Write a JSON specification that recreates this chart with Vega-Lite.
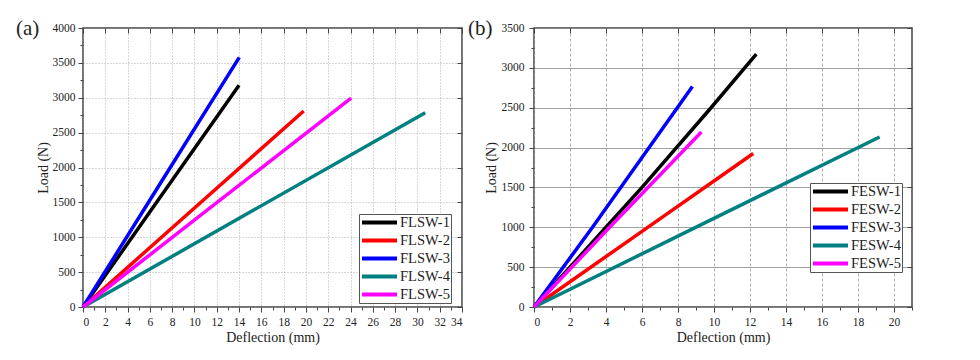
{
  "$schema": "https://vega.github.io/schema/vega-lite/v6.json",
  "background": "white",
  "padding": {"left": 15, "top": 17, "right": 5, "bottom": 5},
  "datasets": {
    "fl": [
      {"specimen": "FLSW-1", "deflection": 0, "load": 0},
      {"specimen": "FLSW-1", "deflection": 7, "load": 1590},
      {"specimen": "FLSW-1", "deflection": 14, "load": 3180},
      {"specimen": "FLSW-2", "deflection": 0, "load": 0},
      {"specimen": "FLSW-2", "deflection": 9.9, "load": 1405},
      {"specimen": "FLSW-2", "deflection": 19.8, "load": 2810},
      {"specimen": "FLSW-3", "deflection": 0, "load": 0},
      {"specimen": "FLSW-3", "deflection": 7, "load": 1788},
      {"specimen": "FLSW-3", "deflection": 14.02, "load": 3578},
      {"specimen": "FLSW-4", "deflection": 0, "load": 0},
      {"specimen": "FLSW-4", "deflection": 15.35, "load": 1393},
      {"specimen": "FLSW-4", "deflection": 30.7, "load": 2785},
      {"specimen": "FLSW-5", "deflection": 0, "load": 0},
      {"specimen": "FLSW-5", "deflection": 12, "load": 1496},
      {"specimen": "FLSW-5", "deflection": 24.05, "load": 2995}
    ],
    "fe": [
      {"specimen": "FESW-1", "deflection": 0, "load": 0},
      {"specimen": "FESW-1", "deflection": 4.0, "load": 1000},
      {"specimen": "FESW-1", "deflection": 6.0, "load": 1500},
      {"specimen": "FESW-1", "deflection": 9.8, "load": 2490},
      {"specimen": "FESW-1", "deflection": 12.35, "load": 3172},
      {"specimen": "FESW-2", "deflection": 0, "load": 0},
      {"specimen": "FESW-2", "deflection": 6.1, "load": 965},
      {"specimen": "FESW-2", "deflection": 12.18, "load": 1925},
      {"specimen": "FESW-3", "deflection": 0, "load": 0},
      {"specimen": "FESW-3", "deflection": 3.25, "load": 1000},
      {"specimen": "FESW-3", "deflection": 8.8, "load": 2765},
      {"specimen": "FESW-4", "deflection": 0, "load": 0},
      {"specimen": "FESW-4", "deflection": 9.6, "load": 1067},
      {"specimen": "FESW-4", "deflection": 19.2, "load": 2133},
      {"specimen": "FESW-5", "deflection": 0, "load": 0},
      {"specimen": "FESW-5", "deflection": 4.2, "load": 1000},
      {"specimen": "FESW-5", "deflection": 9.3, "load": 2195}
    ]
  },
  "bounds": "flush",
  "spacing": 72,
  "hconcat": [
    {
      "width": 379,
      "height": 279,
      "title": {"text": "(a)", "offset": -17, "dx": -67},
      "data": {"name": "fl"},
      "resolve": {"axis": {"x": "independent", "y": "independent"}},
      "layer": [
        {
          "mark": {"type": "point", "opacity": 0},
          "encoding": {
            "x": {"field": "deflection", "type": "quantitative", "scale": {"domain": [0, 34], "nice": false},
              "axis": {"orient": "top", "values": [0,2,4,6,8,10,12,14,16,18,20,22,24,26,28,30,32,34], "labels": false, "tickSize": -5, "grid": false, "title": null}},
            "y": {"field": "load", "type": "quantitative", "scale": {"domain": [0, 4000], "nice": false},
              "axis": {"orient": "right", "values": [0,500,1000,1500,2000,2500,3000,3500,4000], "labels": false, "tickSize": -5, "grid": false, "title": null}}
          }
        },
        {
          "mark": {"type": "point", "opacity": 0},
          "encoding": {
            "x": {"field": "deflection", "type": "quantitative", "scale": {"domain": [0, 34], "nice": false},
              "axis": {"orient": "bottom", "values": [1,3,5,7,9,11,13,15,17,19,21,23,25,27,29,31,33], "labels": false, "tickSize": 3, "grid": false, "title": null}},
            "y": {"field": "load", "type": "quantitative", "scale": {"domain": [0, 4000], "nice": false},
              "axis": {"orient": "left", "values": [250,750,1250,1750,2250,2750,3250,3750], "labels": false, "tickSize": 3, "grid": false, "title": null}}
          }
        },
        {
          "mark": {"type": "line", "strokeWidth": 3.5, "strokeCap": "butt"},
          "encoding": {
            "x": {"field": "deflection", "type": "quantitative", "scale": {"domain": [0, 34], "nice": false},
              "axis": {"orient": "bottom", "values": [0,2,4,6,8,10,12,14,16,18,20,22,24,26,28,30,32,34], "format": "d", "tickSize": 5, "labelPadding": 4, "labelFont": "Liberation Serif", "titleFont": "Liberation Serif", "title": "Deflection (mm)", "titlePadding": 3, "grid": true, "gridDash": [1, 2]}},
            "y": {"field": "load", "type": "quantitative", "scale": {"domain": [0, 4000], "nice": false},
              "axis": {"orient": "left", "values": [0,500,1000,1500,2000,2500,3000,3500,4000], "format": "d", "tickSize": 5, "labelPadding": 3, "labelFont": "Liberation Serif", "titleFont": "Liberation Serif", "title": "Load (N)", "titlePadding": 2, "grid": true, "gridDash": [1, 2]}},
            "color": {"field": "specimen", "type": "nominal",
              "scale": {"domain": ["FLSW-1","FLSW-2","FLSW-3","FLSW-4","FLSW-5"], "range": ["#000000","#ff0000","#0000ff","#008080","#ff00ff"]},
              "legend": {"title": null, "orient": "none", "legendX": 276, "legendY": 186}}
          }
        }
      ]
    },
    {
      "width": 378,
      "height": 279,
      "title": {"text": "(b)", "offset": -17, "dx": -66},
      "data": {"name": "fe"},
      "resolve": {"axis": {"x": "independent", "y": "independent"}},
      "layer": [
        {
          "mark": {"type": "point", "opacity": 0},
          "encoding": {
            "x": {"field": "deflection", "type": "quantitative", "scale": {"domain": [0, 21], "nice": false},
              "axis": {"orient": "top", "values": [0,2,4,6,8,10,12,14,16,18,20], "labels": false, "tickSize": -5, "grid": false, "title": null}},
            "y": {"field": "load", "type": "quantitative", "scale": {"domain": [0, 3500], "nice": false},
              "axis": {"orient": "right", "values": [0,500,1000,1500,2000,2500,3000,3500], "labels": false, "tickSize": -5, "grid": false, "title": null}}
          }
        },
        {
          "mark": {"type": "point", "opacity": 0},
          "encoding": {
            "x": {"field": "deflection", "type": "quantitative", "scale": {"domain": [0, 21], "nice": false},
              "axis": {"orient": "bottom", "values": [1,3,5,7,9,11,13,15,17,19,21], "labels": false, "tickSize": 3, "grid": false, "title": null}},
            "y": {"field": "load", "type": "quantitative", "scale": {"domain": [0, 3500], "nice": false},
              "axis": {"orient": "left", "values": [250,750,1250,1750,2250,2750,3250], "labels": false, "tickSize": 3, "grid": false, "title": null}}
          }
        },
        {
          "mark": {"type": "line", "strokeWidth": 3.5, "strokeCap": "butt"},
          "encoding": {
            "x": {"field": "deflection", "type": "quantitative", "scale": {"domain": [0, 21], "nice": false},
              "axis": {"orient": "bottom", "values": [0,2,4,6,8,10,12,14,16,18,20], "format": "d", "tickSize": 5, "labelPadding": 4, "labelFont": "Liberation Serif", "titleFont": "Liberation Serif", "title": "Deflection (mm)", "titlePadding": 3, "grid": true, "gridDash": [3, 2]}},
            "y": {"field": "load", "type": "quantitative", "scale": {"domain": [0, 3500], "nice": false},
              "axis": {"orient": "left", "values": [0,500,1000,1500,2000,2500,3000,3500], "format": "d", "tickSize": 5, "labelPadding": 5, "labelFont": "Liberation Serif", "titleFont": "Liberation Serif", "title": "Load (N)", "titlePadding": 3, "grid": true, "gridDash": [], "gridColor": "#888"}},
            "color": {"field": "specimen", "type": "nominal",
              "scale": {"domain": ["FESW-1","FESW-2","FESW-3","FESW-4","FESW-5"], "range": ["#000000","#ff0000","#0000ff","#008080","#ff00ff"]},
              "legend": {"title": null, "orient": "none", "legendX": 276, "legendY": 155}}
          }
        }
      ]
    }
  ],
  "resolve": {"scale": {"color": "independent"}},
  "config": {
    "font": "Liberation Serif",
    "view": {"stroke": "#444", "strokeWidth": 1.5},
    "axis": {
      "labelFont": "Liberation Serif", "titleFont": "Liberation Serif",
      "labelColor": "#222", "titleColor": "#222",
      "labelFontSize": 11.5, "titleFontSize": 14, "titleFontWeight": "normal",
      "tickColor": "#444", "tickWidth": 1, "domain": false, "gridColor": "#999", "gridWidth": 0.8
    },
    "legend": {
      "symbolType": "stroke", "symbolSize": 1225, "symbolStrokeWidth": 4,
      "labelFont": "Liberation Serif", "labelFontSize": 14.5, "labelColor": "#222", "labelOffset": 1,
      "clipHeight": 15, "rowPadding": 2, "padding": 1, "strokeColor": "#555", "fillColor": "white"
    },
    "title": {"font": "Liberation Serif", "fontSize": 21, "fontWeight": "normal", "anchor": "start", "frame": "group", "color": "#222"}
  }
}
